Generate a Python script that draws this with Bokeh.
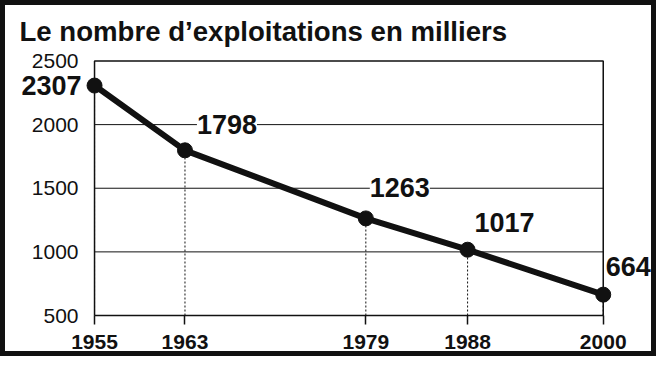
from bokeh.plotting import figure
from bokeh.models import Range1d, FixedTicker, Label
from bokeh.embed import file_html
from bokeh.resources import INLINE

# ---- data ----
years = [1955, 1963, 1979, 1988, 2000]
values = [2307, 1798, 1263, 1017, 664]
value_labels = ["2307", "1798", "1263", "1017", "664"]
y_ticks = [500, 1000, 1500, 2000, 2500]
title_text = "Le nombre d\u2019exploitations en milliers"

# label offsets in pixels (positions, kept apart from the values)
label_dx = [-43, 42, 34, 37, 25]
label_dy = [0, 26, 31, 27, 28]

INK = "#111111"
FONT = "Liberation Sans"

x0, x1 = years[0], years[-1]
y0, y1 = y_ticks[0], y_ticks[-1]

p = figure(width=646, height=346, output_backend="svg", toolbar_location=None,
           x_range=Range1d(x0 - 7.08, x1 + 4.27),
           y_range=Range1d(y0 - 70.7, y1 + 58.9),
           min_border_left=9, min_border_right=10,
           min_border_top=48, min_border_bottom=37)
p.styles = {"border": "5px solid #111111", "box-sizing": "content-box"}
p.outline_line_color = None
p.grid.visible = False
p.background_fill_color = "white"
p.border_fill_color = "white"

p.title.text = title_text
p.title.text_font = FONT
p.title.text_font_size = "27.6px"
p.title.text_font_style = "bold"
p.title.text_color = INK
p.title.align = "left"
p.title.offset = 5
p.title.standoff = 14

# x axis: ticks drawn inward from the frame bottom (which sits below the 500 line)
xa = p.xaxis[0]
xa.ticker = FixedTicker(ticks=years)
xa.axis_line_color = None
xa.major_tick_in = 9
xa.major_tick_out = 0
xa.major_tick_line_color = INK
xa.major_tick_line_width = 1.5
xa.minor_tick_line_color = None
xa.major_label_text_font = FONT
xa.major_label_text_font_size = "21px"
xa.major_label_text_font_style = "bold"
xa.major_label_text_color = INK
xa.major_label_standoff = 10

# y axis fixed on the 1955 edge of the box
ya = p.yaxis[0]
ya.fixed_location = x0
ya.ticker = FixedTicker(ticks=y_ticks)
ya.axis_line_color = None
ya.major_tick_in = 0
ya.major_tick_out = 0
ya.minor_tick_line_color = None
ya.major_label_text_font = FONT
ya.major_label_text_font_size = "21px"
ya.major_label_text_color = INK
ya.major_label_standoff = 16

# gridlines
inner = y_ticks[1:-1]
p.multi_line(xs=[[x0, x1] for _ in inner], ys=[[t, t] for t in inner],
             line_color=INK, line_width=1)
# frame box
p.line([x0, x1, x1, x0, x0], [y0, y0, y1, y1, y0], line_color=INK, line_width=1.5)

# dashed drop lines
p.segment(x0=years, y0=[y0] * len(years), x1=years, y1=values,
          line_color=INK, line_width=1, line_dash="2 2")

# data
p.line(years, values, line_color=INK, line_width=6)
p.scatter(years, values, size=15, fill_color=INK, line_color=INK)

for xv, yv, t, dx, dy in zip(years, values, value_labels, label_dx, label_dy):
    p.add_layout(Label(x=xv, y=yv, text=t, x_offset=dx, y_offset=dy,
                       text_align="center", text_baseline="middle",
                       text_font=FONT, text_font_size="27px", text_font_style="bold",
                       text_color=INK, background_fill_color="white"))

open("out.html", "w").write(file_html(p, INLINE))
